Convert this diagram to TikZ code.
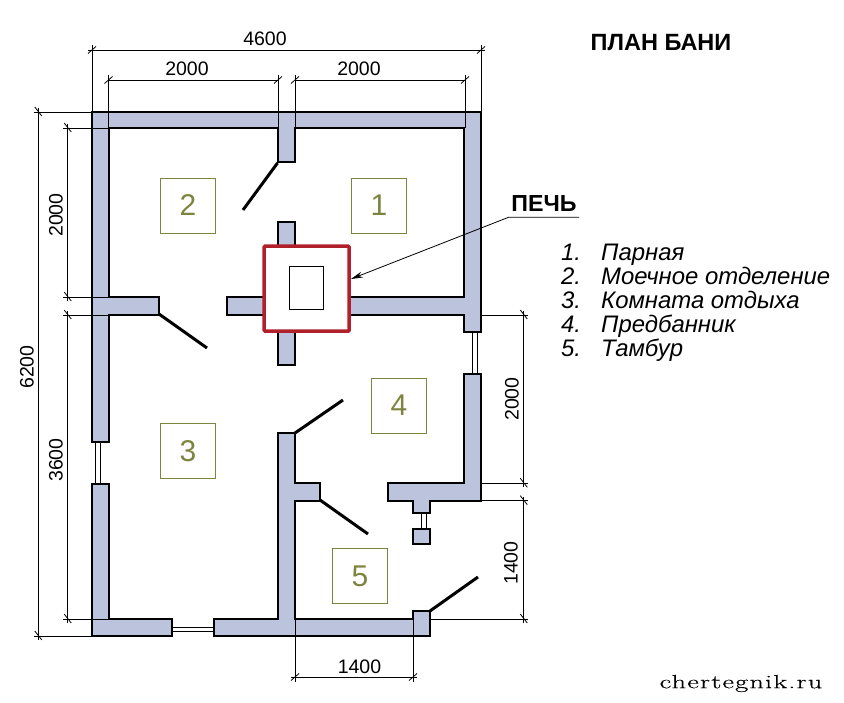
\documentclass[tikz,border=0pt]{standalone}
\usepackage{fontspec}
\setmainfont{Liberation Sans}
\newfontfamily\sitefont[FakeStretch=1.5,LetterSpace=6,FakeBold=0.4]{Latin Modern Roman}
\usetikzlibrary{positioning,arrows.meta}
\definecolor{wallblue}{HTML}{BCC3DC}
\definecolor{stovered}{HTML}{B0202A}
\definecolor{roomgreen}{HTML}{7D8440}
\tikzset{
	wall/.style={draw=black, fill=wallblue, line width=2pt, line join=miter},
	door/.style={line width=3pt},
	glass/.style={line width=0.8pt},
	dimline/.style={line width=0.8pt},
	dimtext/.style={font=\fontsize{19.5}{19.5}\selectfont, inner sep=0pt},
	roombox/.style={draw=roomgreen, line width=0.7pt, minimum size=55pt, inner sep=0pt,
		text=roomgreen, font=\fontsize{30}{30}\selectfont},
	legendtext/.style={font=\fontsize{23.9}{24}\selectfont\itshape, inner sep=0pt, anchor=base west}
}
\newcommand{\htick}[1]{\draw[dimline] (#1) ++(-4,3.5) -- ++(8,-7);}
\newcommand{\vtick}[1]{\draw[dimline] (#1) ++(-3.5,-5) -- ++(7,9);}
\begin{document}
\begin{tikzpicture}[x=1pt,y=-1pt]
	\useasboundingbox (0,0) rectangle (844,703);
	
	% walls
	\draw[wall] (92,112) -- (481,112) -- (481,332) -- (464,332) -- (464,315) -- (340,315) -- (340,297.5) -- (464,297.5) -- (464,128) -- (295,128) -- (295,162) -- (278,162) -- (278,128) -- (108.5,128) -- (108.5,297) -- (159,297) -- (159,315) -- (108.5,315) -- (108.5,441.5) -- (92,441.5) -- cycle;
	\draw[wall] (464,374) -- (481,374) -- (481,500.7) -- (430,500.7) -- (430,513) -- (413,513) -- (413,500.7) -- (388,500.7) -- (388,483.3) -- (464,483.3) -- cycle;
	\draw[wall] (413,529) rectangle (430,544);
	\draw[wall] (92,484) -- (108.5,484) -- (108.5,619) -- (172,619) -- (172,636) -- (92,636) -- cycle;
	\draw[wall] (213.7,619) -- (278,619) -- (278,433) -- (295,433) -- (295,483.3) -- (320,483.3) -- (320,500.7) -- (295,500.7) -- (295,619) -- (413,619) -- (413,611) -- (430,611) -- (430,636) -- (213.7,636) -- cycle;
	\draw[wall] (227,297.5) rectangle (275,315);
	\draw[wall] (278,222) rectangle (295,255);
	\draw[wall] (278,320) rectangle (295,365);
	
	% windows
	\draw[glass] (95,441.5) -- (95,484) (100.5,441.5) -- (100.5,484);
	\draw[glass] (172,627) -- (213.7,627) (172,631.5) -- (213.7,631.5);
	\draw[glass] (472.5,332) -- (472.5,374) (477,332) -- (477,374);
	\draw[glass] (421,513) -- (421,529) (426.5,513) -- (426.5,529);
	
	% doors
	\draw[door] (277.5,163) -- (243,210);
	\draw[door] (159,314) -- (207,348);
	\draw[door] (295,433) -- (343,400);
	\draw[door] (320,500) -- (368,534);
	\draw[door] (430,611) -- (478,577);
	
	% stove
	\node[draw=stovered, fill=white, line width=3.5pt, rounded corners=1pt, minimum size=85pt, inner sep=0pt] (stove) at (306.7,288.7) {};
	\node[draw, line width=0.8pt, minimum width=34pt, minimum height=43pt, inner sep=0pt] (flue) at (306.5,288) {};
	
	% rooms
	\node[roombox] (room1) at (379,205.5) {1};
	\node[roombox] (room2) at (188,205.5) {2};
	\node[roombox] (room3) at (188,451) {3};
	\node[roombox] (room4) at (399,405.5) {4};
	\node[roombox] (room5) at (360,576) {5};
	
	% dimensions
	\draw[dimline] (92,45) -- (92,112) (481,45) -- (481,112) (88,50) -- (485,50);
	\draw[dimline] (108.5,75) -- (108.5,128) (278,75) -- (278,128) (295,75) -- (295,128) (465,75) -- (465,128);
	\draw[dimline] (108.5,80) -- (278,80) (295,80) -- (465,80);
	\draw[dimline] (34,112) -- (92,112) (34,636) -- (92,636) (38.3,108) -- (38.3,640);
	\draw[dimline] (63,128) -- (108.5,128) (63,297) -- (108.5,297) (63,315) -- (108.5,315) (63,619) -- (108.5,619);
	\draw[dimline] (67.7,124) -- (67.7,301) (67.7,311) -- (67.7,623);
	\draw[dimline] (481,315) -- (528,315) (481,483.3) -- (528,483.3) (481,500.7) -- (528,500.7) (430,619) -- (528,619);
	\draw[dimline] (523.8,311) -- (523.8,487) (523.8,497) -- (523.8,623);
	\draw[dimline] (295,619) -- (295,682) (413,611) -- (413,682) (291,677) -- (417,677);
	\htick{92,50} \htick{481,50}
	\htick{108.5,80} \htick{278,80} \htick{295,80} \htick{465,80}
	\htick{295,677} \htick{413,677}
	\vtick{38.3,112} \vtick{38.3,636}
	\vtick{67.7,128} \vtick{67.7,297} \vtick{67.7,315} \vtick{67.7,619}
	\vtick{523.8,315} \vtick{523.8,483.3} \vtick{523.8,500.7} \vtick{523.8,619}
	\node[dimtext] (dimall) at (265,38.5) {4600};
	\node[dimtext] (dimtopa) at (187,69) {2000};
	\node[dimtext] (dimtopb) at (359,69) {2000};
	\node[dimtext, rotate=90] (dimheight) at (27,367) {6200};
	\node[dimtext, rotate=90] (dimlefta) at (56,215) {2000};
	\node[dimtext, rotate=90] (dimleftb) at (56,460) {3600};
	\node[dimtext, rotate=90] (dimrighta) at (512,399) {2000};
	\node[dimtext, rotate=90] (dimrightb) at (511,563) {1400};
	\node[dimtext] (dimbottom) at (359.5,667) {1400};
	
	% labels
	\node[font=\fontsize{23.5}{24}\selectfont\bfseries, inner sep=0pt] (title) at (661,43) {ПЛАН БАНИ};
	\node[font=\fontsize{23.2}{24}\selectfont\bfseries, inner sep=0pt, minimum width=70pt, minimum height=26pt] (pech) at (544,204) {ПЕЧЬ};
	\draw[line width=0.8pt, -{Stealth[length=12pt,width=6pt]}] (pech.south east) -- (pech.south west) -- ([yshift=9.7pt]stove.east);
	
	% legend
	\node[legendtext] (num1) at (561,260.5) {1.};
	\node[legendtext] (num2) at (561,284.5) {2.};
	\node[legendtext] (num3) at (561,308.5) {3.};
	\node[legendtext] (num4) at (561,332.5) {4.};
	\node[legendtext] (num5) at (561,356.5) {5.};
	\node[legendtext] (item1) at (601,260.5) {Парная};
	\node[legendtext] (item2) at (601,284.5) {Моечное отделение};
	\node[legendtext] (item3) at (601,308.5) {Комната отдыха};
	\node[legendtext] (item4) at (601,332.5) {Предбанник};
	\node[legendtext] (item5) at (601,356.5) {Тамбур};
	
	\node[font=\fontsize{19}{19}\selectfont\sitefont, inner sep=0pt] (site) at (741,683.5) {chertegnik.ru};
\end{tikzpicture}
\end{document}
